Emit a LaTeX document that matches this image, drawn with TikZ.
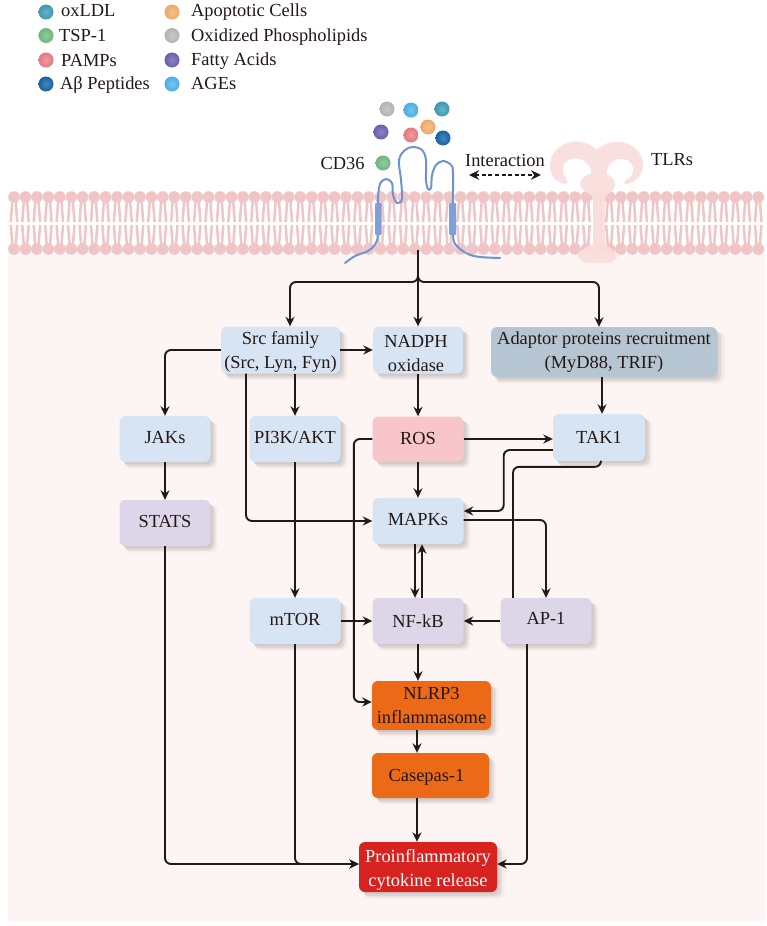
\documentclass[tikz,border=0pt]{standalone}
\usepackage{fontspec}
\setmainfont{Liberation Serif}
\usetikzlibrary{arrows.meta,calc,shadows}
\definecolor{ink}{HTML}{231815}
\definecolor{panel}{HTML}{FCF5F3}
\definecolor{lipid}{HTML}{F0C5C6}
\definecolor{receptor}{HTML}{F9DEDC}
\definecolor{cdblue}{HTML}{6F93D2}
\definecolor{cdbar}{HTML}{7F9FD8}
\definecolor{paleblue}{HTML}{D6E4F3}
\definecolor{palepurple}{HTML}{DDD6E8}
\definecolor{palered}{HTML}{F8C6CA}
\definecolor{slate}{HTML}{B5C6D2}
\definecolor{orangebox}{HTML}{EC6A17}
\definecolor{redbox}{HTML}{D7231F}
\definecolor{cTeal}{HTML}{3E9DB5}
\definecolor{cGreen}{HTML}{72BC82}
\definecolor{cRed}{HTML}{EC7C82}
\definecolor{cNavy}{HTML}{1465A8}
\definecolor{cOrange}{HTML}{F6AE6A}
\definecolor{cGray}{HTML}{B8B8B8}
\definecolor{cPurple}{HTML}{6A62B0}
\definecolor{cSky}{HTML}{4DB4EC}
% move a label inside its box without changing the box
\newcommand{\nudge}[3]{\kern#1\raisebox{#2}[\height][\depth]{#3}\kern-#1}
\tikzset{
  x=1pt,y=-1pt,
  every node/.style={text=ink,font=\fontsize{18.4}{24}\selectfont},
  box/.style={draw=none,rounded corners=6pt,inner sep=0pt,align=center,
    general shadow={fill=black,opacity=.03,shadow xshift=6pt,shadow yshift=-6pt,shadow scale=1.02},
    general shadow={fill=black,opacity=.04,shadow xshift=5pt,shadow yshift=-5pt},
    general shadow={fill=black,opacity=.05,shadow xshift=4pt,shadow yshift=-4pt},
    general shadow={fill=black,opacity=.06,shadow xshift=2.5pt,shadow yshift=-2.5pt,shadow scale=.99}},
  link/.style={draw=ink,line width=1.9pt,rounded corners=6pt,-{Stealth[length=9.5pt,width=9pt]}},
  plainlink/.style={draw=ink,line width=1.9pt,rounded corners=6pt},
  thinlink/.style={draw=ink,line width=1.4pt,-{Stealth[length=9.5pt,width=9pt]}},
  lbl/.style={inner sep=0pt,anchor=base west},
  ligand/.style={circle,minimum size=15pt,inner sep=0pt,inner color=#1!78!white,outer color=#1!97!black},
}
\begin{document}
\begin{tikzpicture}
\useasboundingbox (0,0) rectangle (767,926);
\fill[white] (0,0) rectangle (767,926);
% cytoplasm
\fill[panel] (8,245) rectangle (765,921);
% lipid bilayer
\foreach \i in {0,...,65}{
  \pgfmathsetmacro{\hx}{14+\i*11.45}
  \fill[lipid] (\hx,197) circle (5.8);
  \fill[lipid] (\hx,249) circle (5.8);
  \draw[lipid,line width=2.5pt] (\hx-1.5,199) -- (\hx-3.2,222);
  \draw[lipid,line width=2.5pt] (\hx+1.5,199) -- (\hx+3.2,222);
  \draw[lipid,line width=2.5pt] (\hx-1.5,247) -- (\hx-3.2,225);
  \draw[lipid,line width=2.5pt] (\hx+1.5,247) -- (\hx+3.2,225);
}
% TLR receptor: two hooked lobes on a neck, then the stem and its foot
\begin{scope}[fill=receptor,fill opacity=.93]
\fill (597,150) .. controls (590,143) and (580,141) .. (572,142)
  .. controls (558,144) and (550,155) .. (550,165)
  .. controls (550,175) and (556,183) .. (565,184)
  .. controls (568,183) and (568,180) .. (566,178)
  .. controls (561,174) and (561,165) .. (567,161)
  .. controls (573,157) and (583,158) .. (588,164)
  .. controls (591,168) and (592,172) .. (591,174)
  .. controls (586,175) and (580,178) .. (580,184)
  .. controls (580,190) and (588,192) .. (593,197)
  -- (605,197)
  .. controls (610,192) and (616,190) .. (615,184)
  .. controls (615,179) and (610,176) .. (607,174)
  .. controls (606,170) and (608,166) .. (611,163)
  .. controls (617,157) and (627,158) .. (631,163)
  .. controls (635,168) and (634,174) .. (629,178)
  .. controls (626,180) and (623,182) .. (625,184)
  .. controls (634,184) and (643,175) .. (643,165)
  .. controls (643,154) and (634,143) .. (620,142)
  .. controls (611,141) and (603,144) .. (597,150) -- cycle;
\fill (593,190) rectangle (605,250);
\fill plot[smooth cycle,tension=.5] coordinates {(593,244) (583,250) (578,256) (584,262) (598,263) (612,262) (617,256) (612,250) (605,244)};
\end{scope}
% CD36
\draw[cdblue,line width=2pt,line cap=round] plot[smooth,tension=.55] coordinates {(345,263) (355,256) (368,251) (376,243) (378,232) (378,200) (380,184) (386,179) (392,183) (393,195) (397,203) (402,199) (401,180) (399,160) (405,150) (413,147) (422,150) (426,160) (426,180) (428,189) (431,188) (432,175) (436,165) (443,161) (451,165) (453,175) (453,235) (458,247) (468,254) (480,257) (500,258)};
\fill[cdbar,rounded corners=1pt] (375,203) rectangle (381.5,235);
\fill[cdbar,rounded corners=1pt] (449,203) rectangle (456,235);
% legend
\node[ligand=cTeal] (lgA) at (46,12) {};
\node[ligand=cGreen] (lgB) at (46,35.5) {};
\node[ligand=cRed] (lgC) at (46,60) {};
\node[ligand=cNavy] (lgD) at (46,84) {};
\node[ligand=cOrange] (lgE) at (172,12) {};
\node[ligand=cGray] (lgF) at (172,35.5) {};
\node[ligand=cPurple] (lgG) at (172,60) {};
\node[ligand=cSky] (lgH) at (172,84) {};
\node[lbl] (ltA) at (61,16.7) {oxLDL};
\node[lbl] (ltB) at (59,41) {TSP-1};
\node[lbl] (ltC) at (61,66) {PAMPs};
\node[lbl] (ltD) at (60,89.5) {A\char"03B2{} Peptides};
\node[lbl] (ltE) at (191,16.7) {Apoptotic Cells};
\node[lbl] (ltF) at (191,41) {Oxidized Phospholipids};
\node[lbl] (ltG) at (191,65.5) {Fatty Acids};
\node[lbl] (ltH) at (191,89.5) {AGEs};
% ligands above the receptor
\node[ligand=cGray] (dotA) at (387,109) {};
\node[ligand=cSky] (dotB) at (411,110) {};
\node[ligand=cTeal] (dotC) at (442,109) {};
\node[ligand=cPurple] (dotD) at (381,132) {};
\node[ligand=cRed] (dotE) at (411,135) {};
\node[ligand=cOrange] (dotF) at (428,127) {};
\node[ligand=cNavy] (dotG) at (443,138) {};
\node[ligand=cGreen] (dotH) at (383,163) {};
\node (cdlabel) at (342.5,163) {CD36};
\node (ixlabel) at (505,160) {Interaction};
\node (tlrlabel) at (672,160) {TLRs};
\coordinate (ixL) at (469,175);
\coordinate (ixR) at (541,175);
\draw[draw=ink,line width=1.6pt,dash pattern=on 4pt off 2.6pt,{Stealth[length=10pt,width=9.5pt]}-{Stealth[length=10pt,width=9.5pt]}] (ixL) -- (ixR);
% pathway boxes
\node[box,fill=paleblue,minimum width=119,minimum height=47] (src) at (280.5,350) {\nudge{0pt}{-2pt}{Src family}\\\nudge{0pt}{-2pt}{(Src, Lyn, Fyn)}};
\node[box,fill=paleblue,minimum width=90,minimum height=47] (nadph) at (418,350) {\nudge{-2pt}{-4pt}{NADPH}\\\nudge{-2pt}{-4pt}{oxidase}};
\node[box,fill=slate,minimum width=226,minimum height=50] (adaptor) at (604,352) {Adaptor proteins recruitment\\(MyD88, TRIF)};
\node[box,fill=paleblue,minimum width=91,minimum height=46] (jaks) at (165,439) {\nudge{0pt}{1.5pt}{JAKs}};
\node[box,fill=paleblue,minimum width=91,minimum height=46] (pik) at (295,439) {\nudge{0pt}{1.5pt}{PI3K/AKT}};
\node[box,fill=palered,minimum width=91,minimum height=45] (ros) at (418,439) {\nudge{0pt}{1pt}{ROS}};
\node[box,fill=paleblue,minimum width=92,minimum height=47] (tak) at (599,437.5) {TAK1};
\node[box,fill=palepurple,minimum width=91,minimum height=46] (stats) at (165,523) {\nudge{0pt}{1.5pt}{STATS}};
\node[box,fill=paleblue,minimum width=91,minimum height=46] (mapk) at (418,521) {\nudge{0pt}{1.5pt}{MAPKs}};
\node[box,fill=paleblue,minimum width=91,minimum height=46] (mtor) at (295,621) {\nudge{0pt}{1.5pt}{mTOR}};
\node[box,fill=palepurple,minimum width=91,minimum height=46] (nfkb) at (418,621) {NF-kB};
\node[box,fill=palepurple,minimum width=91,minimum height=46] (ap) at (546,621) {\nudge{0pt}{2.5pt}{AP-1}};
\node[box,fill=orangebox,minimum width=119,minimum height=49] (nlrp) at (431.5,705.5) {NLRP3\\inflammasome};
\node[box,fill=orangebox,minimum width=117,minimum height=45] (casp) at (430.5,775.5) {\nudge{-4pt}{-1.5pt}{Casepas-1}};
\node[box,fill=redbox,minimum width=138,minimum height=50,text=white] (cyto) at (428,867) {\nudge{0pt}{-2.5pt}{Proinflammatory}\\\nudge{0pt}{-2.5pt}{cytokine release}};
% receptor signal fork
\coordinate (stem) at (418,250);
\coordinate (fork) at (418,282);
\draw[link] (stem) -- (fork) -| ($(src.north)+(9.5,0)$);
\draw[link] (stem) -- (nadph.north);
\draw[link] (stem) -- (fork) -| ($(adaptor.north)+(-5,0)$);
% upstream kinases
\draw[link] (src.east) -- (nadph.west);
\draw[link] (src.west) -| (jaks.north);
\draw[link] ($(src.south)+(14.5,0)$) -- (pik.north);
\draw[link] ($(src.south)+(-34.5,0)$) |- (mapk.west);
\draw[link] (jaks.south) -- (stats.north);
\draw[link] (nadph.south) -- (ros.north);
\draw[link] ($(adaptor.south)+(-2,0)$) -- ($(tak.north)+(3,0)$);
\draw[link] (pik.south) -- (mtor.north);
\draw[link] (ros.east) -- (ros.east -| tak.west);
\draw[link] (ros.south) -- (mapk.north);
\coordinate (roslane) at ($(nlrp.west)+(-18,-3.5)$);
\draw[link] (ros.west) -| (roslane) -- ($(nlrp.west)+(0,-3.5)$);
% TAK1 and MAPK crosstalk
\coordinate (takbend) at ($(mapk.east)+(40,-10)$);
\draw[link] ($(tak.west)+(0,12.5)$) -| (takbend) -- ($(mapk.east)+(0,-10)$);
\coordinate (aplane) at ($(ap.north)+(-33,0)$);
\draw[plainlink] ($(tak.south)+(2,0)$) |- ($(aplane)+(0,-131)$) -- (aplane);
\draw[link] ($(mapk.east)+(0,-1)$) -| (ap.north);
\draw[link] ($(mapk.south)+(-3,0)$) -- ($(nfkb.north)+(-3,0)$);
\draw[thinlink] ($(nfkb.north)+(4,0)$) -- ($(mapk.south)+(4,0)$);
\draw[link] (mtor.east) -- (nfkb.west);
\draw[link] (ap.west) -- (nfkb.east);
\draw[link] (nfkb.south) -- ($(nlrp.north)+(-13.5,0)$);
\draw[link] ($(nlrp.south)+(-14.5,0)$) -- ($(casp.north)+(-13.5,0)$);
\draw[link] ($(casp.south)+(-13.5,0)$) -- ($(cyto.north)+(-11,0)$);
% routes into cytokine release
\coordinate (cytoL) at ($(cyto.west)+(0,-3)$);
\coordinate (cytoR) at ($(cyto.east)+(0,-3)$);
\draw[link] (stats.south) |- (cytoL);
\draw[link] (mtor.south) |- (cytoL);
\draw[link] ($(ap.south)+(-19,0)$) |- (cytoR);
\end{tikzpicture}
\end{document}
